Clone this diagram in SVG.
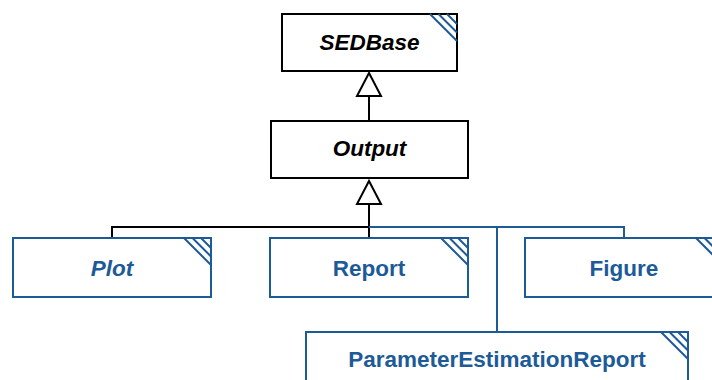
<svg xmlns="http://www.w3.org/2000/svg" width="712" height="380" viewBox="0 0 712 380">
<style>
.box{fill:#fff;stroke-width:2}
.k{stroke:#000}
.b{stroke:#1d5a98}
.hatch{stroke:#1d5a98;stroke-width:2;fill:none}
.t{font-family:"Liberation Sans",Arial,sans-serif;font-size:22.5px;font-weight:bold;text-anchor:middle}
.tk{fill:#000}
.tb{fill:#1d5a98}
.i{font-style:italic}
.c{fill:none;stroke-width:2}
</style>
<rect width="712" height="380" fill="#fff"/>
<g id="connectors">
<path class="c k" d="M369 96V120M369 204V238M112 238V227H369"/>
<path class="c b" d="M369 227H624V238M497 227V332"/>
<path d="M369 73L357 96H381Z" fill="#fff" stroke="#000" stroke-width="2"/>
<path d="M369 181L357 204H381Z" fill="#fff" stroke="#000" stroke-width="2"/>
</g>
<g id="SEDBase">
<rect class="box k" x="282" y="14" width="175" height="57"/>
<path class="hatch" d="M430 14L457 41M438.5 14L457 32.5M447 14L457 24"/>
<text class="t tk i" x="369.5" y="50">SEDBase</text>
</g>
<g id="Output">
<rect class="box k" x="271" y="121" width="197" height="57"/>
<text class="t tk i" x="369.5" y="156">Output</text>
</g>
<g id="Plot">
<rect class="box b" x="13" y="238" width="198" height="59"/>
<path class="hatch" d="M184 238L211 265M192.5 238L211 256.5M201 238L211 248"/>
<text class="t tb i" x="112" y="276">Plot</text>
</g>
<g id="Report">
<rect class="box b" x="270" y="238" width="198" height="59"/>
<path class="hatch" d="M441 238L468 265M449.5 238L468 256.5M458 238L468 248"/>
<text class="t tb" x="369" y="276">Report</text>
</g>
<g id="Figure">
<rect class="box b" x="525" y="238" width="198" height="59"/>
<path class="hatch" d="M696 238L723 265M704.5 238L723 256.5M713 238L723 248"/>
<text class="t tb" x="624" y="276">Figure</text>
</g>
<g id="ParameterEstimationReport">
<rect class="box b" x="306" y="332" width="382" height="59"/>
<path class="hatch" d="M661 332L688 359M669.5 332L688 350.5M678 332L688 342"/>
<text class="t tb" x="497" y="367">ParameterEstimationReport</text>
</g>
</svg>
